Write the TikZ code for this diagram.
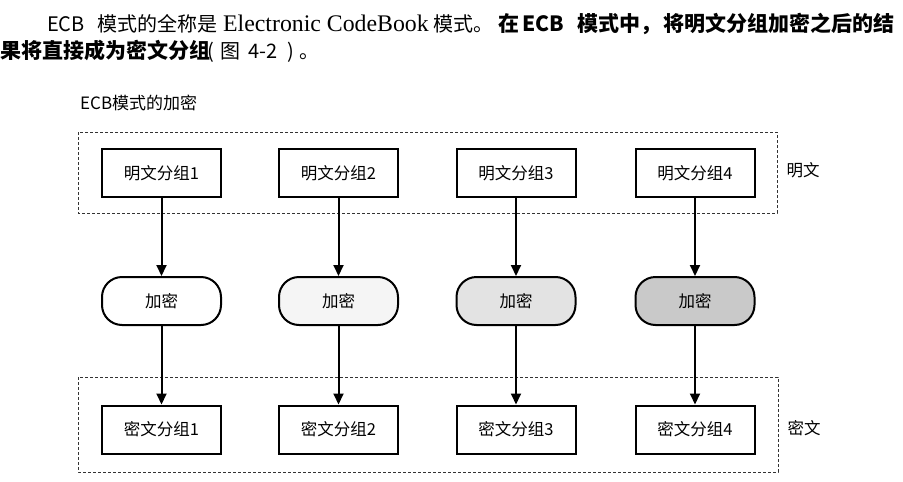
\documentclass[tikz,border=0pt]{standalone}
\usepackage{fontspec}
\setmainfont{Noto Sans CJK SC}
\newfontfamily\cjk{Noto Sans CJK SC}
\newfontfamily\serifen{Liberation Serif}
\usetikzlibrary{arrows.meta}
\begin{document}
\begin{tikzpicture}[x=1pt,y=-1pt,
  blk/.style={draw,line width=2pt,minimum width=119pt,minimum height=48pt,inner sep=0pt,font=\cjk\fontsize{16.5}{19}\selectfont},
  enc/.style={blk,rounded corners=20pt},
  grp/.style={draw=black!80,line width=0.8pt,dash pattern=on 3pt off 2pt},
  arr/.style={line width=2pt,-{Triangle[width=10pt,length=11pt]}},
  lbl/.style={font=\cjk\fontsize{16.5}{19}\selectfont,inner sep=0pt},
  head/.style={inner sep=0pt,anchor=base west,font=\cjk\fontsize{20}{24}\selectfont},
  headb/.style={head,font=\cjk\bfseries\fontsize{21}{24}\selectfont}]
\useasboundingbox (0,0) rectangle (903,482);
% header paragraph
\node[head] (h1) at (47,31) {ECB};
\node[head] (h2) at (97,31) {模式的全称是};
\node[head,font=\serifen\fontsize{23.8}{26}\selectfont] (h3) at (223,31) {Electronic CodeBook};
\node[head] (h4) at (433,31) {模式。};
\node[headb] (h5) at (498,31) {在};
\node[headb] (h6) at (522,31) {ECB};
\node[headb] (h7) at (577,31) {模式中，};
\node[headb] (h8) at (663,31) {将明文分组加密之后的结};
\node[headb] (h9) at (0,58) {果将直接成为密文分组};
\node[head] (h10) at (207,58) {(};
\node[head] (h11) at (220,58) {图};
\node[head] (h12) at (248,58) {4-2};
\node[head] (h13) at (287,58) {)};
\node[head] (h14) at (299,58) {。};
% diagram title
\node[lbl,font=\cjk\fontsize{17}{19}\selectfont,anchor=west] (title) at (80,103) {ECB模式的加密};
% groups
\draw[grp] (78,132) rectangle (777,213);
\draw[grp] (78,377) rectangle (778,472);
\node[lbl] (lp) at (803,170) {明文};
\node[lbl] (lc) at (804,428) {密文};
% blocks
\foreach \i/\x/\f in {1/161.5/white,2/338.5/black!4,3/516/black!11,4/695/black!21}{
  \node[blk] (p\i) at (\x,173) {明文分组\i};
  \node[enc,fill=\f] (e\i) at (\x,301) {加密};
  \node[blk] (c\i) at (\x,429.5) {密文分组\i};
  \draw[arr] (p\i) -- (e\i);
  \draw[arr] (e\i) -- (c\i);
}
\end{tikzpicture}
\end{document}
